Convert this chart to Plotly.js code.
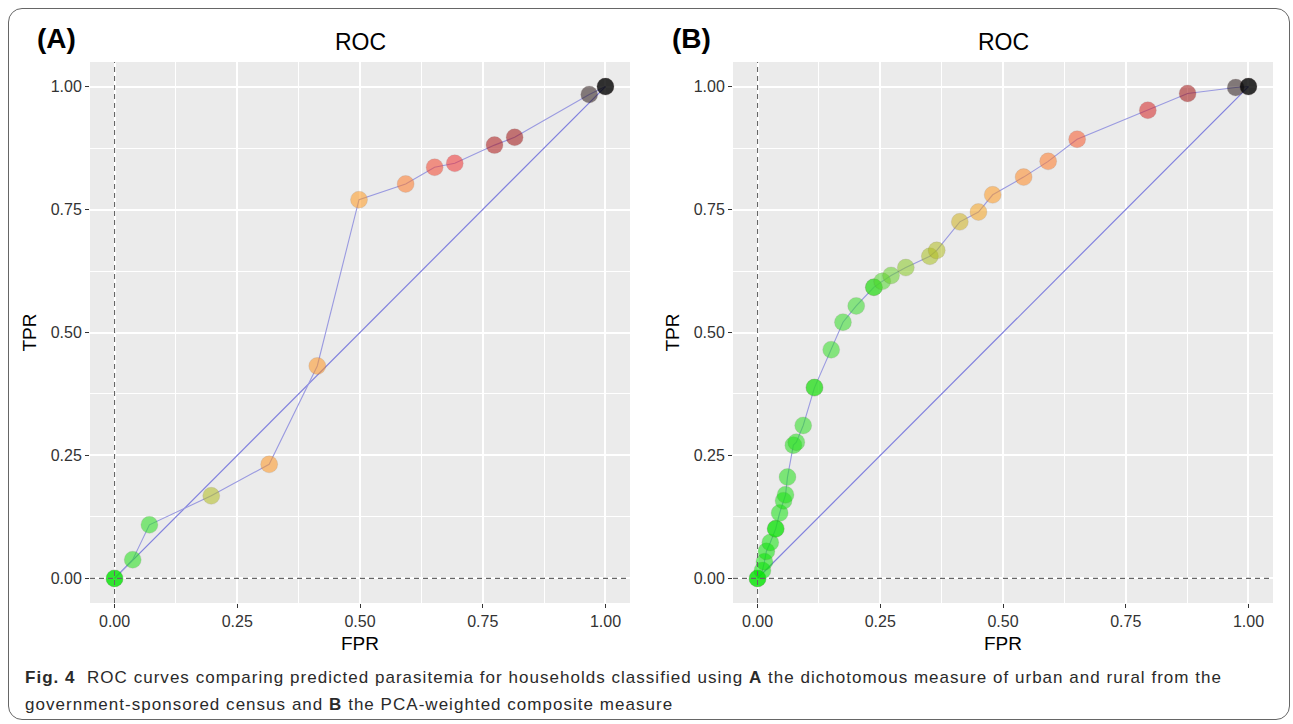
<!DOCTYPE html>
<html>
<head>
<meta charset="utf-8">
<script src="https://cdn.plot.ly/plotly-3.0.1.min.js"></script>
<style>
  html, body { margin: 0; padding: 0; background: #ffffff; }
  #wrap { position: relative; width: 1293px; height: 724px; overflow: hidden; }
  #chart { position: absolute; left: 0; top: 0; width: 1293px; height: 724px; }
  #frame { position: absolute; left: 8px; top: 8px; width: 1282px; height: 712px;
           border: 1.5px solid #666666; border-radius: 14px; box-sizing: border-box; pointer-events: none; }
  #caption { position: absolute; left: 25px; top: 664px; width: 1260px;
             font-family: "Liberation Sans", Arial, sans-serif;
             font-size: 17px; line-height: 27px; color: #2a2a2a; white-space: nowrap; }
  #caption span { display: inline-block; }
</style>
</head>
<body>
<div id="wrap">
  <div id="chart"></div>
  <div id="frame"></div>
  <div id="caption"><span id="cap1"><b>Fig. 4</b>&nbsp; ROC curves comparing predicted parasitemia for households classified using <b>A</b> the dichotomous measure of urban and rural from the</span><br><span id="cap2">government-sponsored census and <b>B</b> the PCA-weighted composite measure</span></div>
</div>
<script>
// ---------- data ----------
const tickVals = [0, 0.25, 0.5, 0.75, 1];
const tickLabels = ["0.00", "0.25", "0.50", "0.75", "1.00"];
const minorVals = [0.125, 0.375, 0.625, 0.875];

// Panel A: dichotomous urban/rural measure (ROC points; ties repeated)
const fprA = [0, 0, 0.037, 0.071, 0.197, 0.315, 0.413, 0.498, 0.593, 0.652, 0.693, 0.774, 0.815, 0.967, 1, 1];
const tprA = [0, 0, 0.038, 0.109, 0.168, 0.232, 0.432, 0.770, 0.802, 0.836, 0.844, 0.881, 0.897, 0.984, 1, 1];
const cutA = [0, 0, 0.10, 0.12, 0.34, 0.45, 0.46, 0.44, 0.55, 0.63, 0.66, 0.76, 0.78, 0.90, 1, 1];

// Panel B: PCA-weighted composite measure
const fprB = [0, 0, 0.010, 0.014, 0.018, 0.026, 0.037, 0.037, 0.045, 0.053, 0.057, 0.061, 0.073, 0.079, 0.093,
              0.116, 0.116, 0.150, 0.174, 0.201, 0.237, 0.237, 0.254, 0.272, 0.302, 0.351, 0.365, 0.412, 0.450,
              0.479, 0.542, 0.592, 0.651, 0.795, 0.876, 0.974, 1, 1];
const tprB = [0, 0, 0.016, 0.034, 0.055, 0.073, 0.101, 0.101, 0.133, 0.158, 0.170, 0.206, 0.271, 0.277, 0.311,
              0.388, 0.388, 0.465, 0.521, 0.554, 0.592, 0.592, 0.604, 0.616, 0.632, 0.655, 0.667, 0.725, 0.745,
              0.780, 0.816, 0.848, 0.893, 0.952, 0.986, 0.998, 1, 1];
const cutB = [0, 0, 0.02, 0.03, 0.04, 0.05, 0.06, 0.06, 0.07, 0.08, 0.09, 0.10, 0.11, 0.12, 0.13,
              0.14, 0.14, 0.15, 0.16, 0.17, 0.18, 0.18, 0.22, 0.25, 0.29, 0.33, 0.34, 0.37, 0.41,
              0.44, 0.50, 0.55, 0.60, 0.70, 0.78, 0.90, 1, 1];

// chance / reference curves
const refXA = [0, 0.25, 0.5, 0.75, 1];
const refYA = [0, 0.25, 0.5, 0.75, 1];
const refXB = [0, 0.25, 0.5, 0.75, 1];
const refYB = [0, 0.25, 0.5, 0.75, 1];

// ---------- styling ----------
const cscale = [
  [0.00, '#00e600'], [0.20, '#40dc30'], [0.33, '#a8c020'], [0.42, '#ffa020'],
  [0.55, '#ff7a28'], [0.66, '#f03030'], [0.78, '#a01010'], [0.90, '#2c1c1c'], [1.00, '#000000']
];
const W = 1293, H = 724;
const px = v => v / W, py = v => 1 - v / H;
const font = '"Liberation Sans", Arial, sans-serif';

function rocTraces(fx, ty, cut, rx, ry, xa, ya) {
  return [
    { x: rx, y: ry, xaxis: xa, yaxis: ya, type: 'scatter', mode: 'lines',
      line: { color: '#8080de', width: 1.2 }, hoverinfo: 'skip', showlegend: false },
    { x: fx, y: ty, xaxis: xa, yaxis: ya, type: 'scatter', mode: 'lines',
      line: { color: '#9a9ae0', width: 1.1 }, hoverinfo: 'skip', showlegend: false },
    { x: fx, y: ty, xaxis: xa, yaxis: ya, type: 'scatter', mode: 'markers',
      marker: { size: 17, color: cut, colorscale: cscale, cmin: 0, cmax: 1, opacity: 0.55,
                line: { width: 0.8, color: 'rgba(80,60,60,0.25)' }, showscale: false },
      showlegend: false }
  ];
}

const data = [].concat(
  rocTraces(fprA, tprA, cutA, refXA, refYA, 'x', 'y'),
  rocTraces(fprB, tprB, cutB, refXB, refYB, 'x2', 'y2')
);

function axis(domain, anchor, title, isY) {
  return {
    domain: domain, anchor: anchor, range: [-0.05, 1.05], autorange: false,
    tickvals: tickVals, ticktext: tickLabels,
    ticks: 'outside', ticklen: 4, tickwidth: 1, tickcolor: '#333333',
    tickfont: { family: font, size: 16, color: '#333333' },
    showgrid: true, gridcolor: '#ffffff', gridwidth: 2,
    minor: { tickvals: minorVals, showgrid: true, gridcolor: '#ffffff', gridwidth: 1, ticks: '' },
    zeroline: false, showline: false,
    title: { text: title, font: { family: font, size: 19, color: '#000' },
             standoff: isY ? 9 : 7 }
  };
}

const xdomA = [px(90), px(630)], xdomB = [px(733), px(1273)];
const ydom = [py(603), py(62)];

const shapes = [];
[['x', 'y'], ['x2', 'y2']].forEach(([xa, ya]) => {
  shapes.push({ type: 'line', xref: xa, yref: ya + ' domain', x0: 0, x1: 0, y0: 0, y1: 1,
                line: { color: '#666666', width: 1.1, dash: '5px,4px' } });
  shapes.push({ type: 'line', xref: xa + ' domain', yref: ya, x0: 0, x1: 1, y0: 0, y1: 0,
                line: { color: '#666666', width: 1.1, dash: '5px,4px' } });
});

const annotations = [
  { text: 'ROC', xref: 'paper', yref: 'paper', x: (xdomA[0] + xdomA[1]) / 2, y: py(42),
    xanchor: 'center', yanchor: 'middle', showarrow: false, font: { family: font, size: 23, color: '#000' } },
  { text: 'ROC', xref: 'paper', yref: 'paper', x: (xdomB[0] + xdomB[1]) / 2, y: py(42),
    xanchor: 'center', yanchor: 'middle', showarrow: false, font: { family: font, size: 23, color: '#000' } },
  { text: '<b>(A)</b>', xref: 'paper', yref: 'paper', x: px(35), y: py(38),
    xanchor: 'left', yanchor: 'middle', showarrow: false, font: { family: font, size: 28, color: '#000' } },
  { text: '<b>(B)</b>', xref: 'paper', yref: 'paper', x: px(670), y: py(38),
    xanchor: 'left', yanchor: 'middle', showarrow: false, font: { family: font, size: 28, color: '#000' } }
];

const layout = {
  width: W, height: H, margin: { l: 0, r: 0, t: 0, b: 0 },
  paper_bgcolor: 'rgba(0,0,0,0)', plot_bgcolor: '#ebebeb',
  showlegend: false,
  xaxis: axis(xdomA, 'y', 'FPR', false),
  yaxis: axis(ydom, 'x', 'TPR', true),
  xaxis2: axis(xdomB, 'y2', 'FPR', false),
  yaxis2: axis(ydom, 'x2', 'TPR', true),
  shapes: shapes,
  annotations: annotations
};

Plotly.newPlot('chart', data, layout, { displayModeBar: false, staticPlot: true });

// fit caption line 1 to the reference width (about 1197 px)
(function fitCaption() {
  const s1 = document.getElementById('cap1');
  const s2 = document.getElementById('cap2');
  const w = s1.getBoundingClientRect().width;
  const n = s1.textContent.length;
  const ls = (1197 - w) / n;
  s1.style.letterSpacing = ls + 'px';
  s2.style.letterSpacing = ls + 'px';
})();
</script>
</body>
</html>
